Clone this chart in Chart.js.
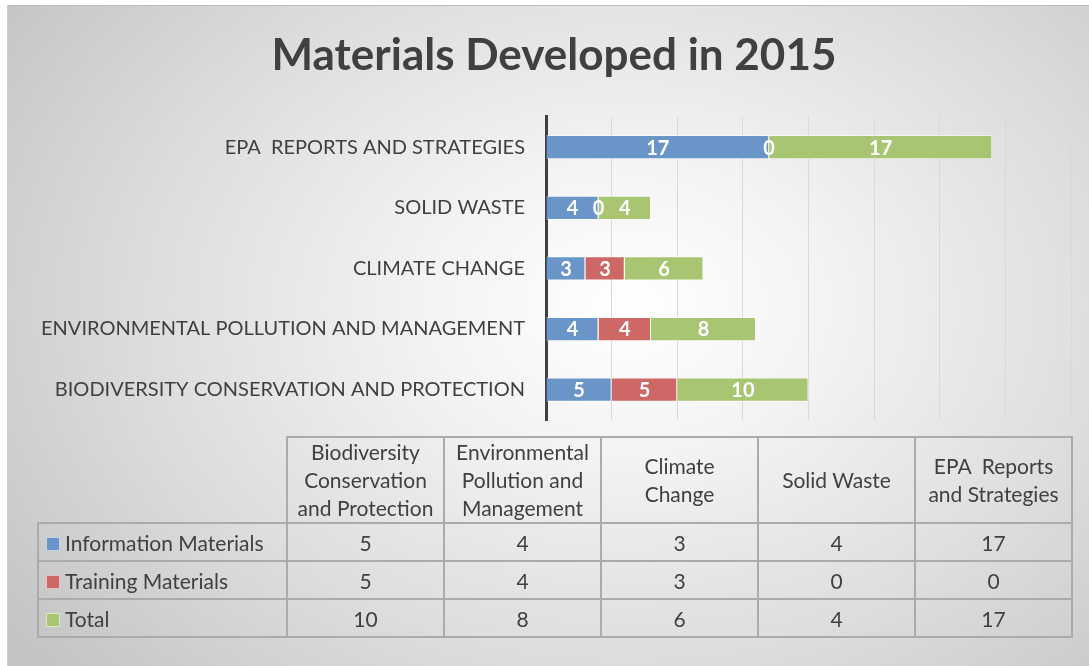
<!DOCTYPE html>
<html>
<head>
<meta charset="utf-8">
<script src="https://cdn.jsdelivr.net/npm/chart.js@4"></script>
<style>
    html, body { margin: 0; padding: 0; background: #fff; }
    #frame {
        position: absolute; left: 7px; top: 5px; width: 1082px; height: 661px;
        border-top: 1px solid #bdbdbd; border-left: 1px solid #cfcfcf;
        background: radial-gradient(ellipse 760px 560px at 620px 300px, #ffffff 0%, #f4f4f4 25%, #dcdcdc 65%, #c4c4c4 100%);
    }
    #chart { position: absolute; left: 0; top: 0; }
    #table {
        position: absolute; left: 37px; top: 436px; width: 1034px; table-layout: fixed;
        border-collapse: collapse; font-family: Lato, sans-serif; font-size: 21px; color: #404040;
    }
    #table td { border: 2px solid #ababab; text-align: center; padding: 0 6px; white-space: pre-wrap; }
    #table tr.head td { height: 84px; line-height: 28px; }
    #table tr.row td { height: 36px; }
    #table td.name { text-align: left; padding-left: 7px; white-space: nowrap; }
    #table td.blank { border-top: none; border-left: none; }
    .sw { display: inline-block; width: 12px; height: 12px; margin-right: 5px; border: 1px solid rgba(255,255,255,0.6); }
</style>
</head>
<body>
<div id="frame"></div>
<canvas id="chart" width="1089" height="666"></canvas>
<table id="table"></table>
<script>
const categories = ['Biodiversity Conservation and Protection', 'Environmental Pollution and Management', 'Climate Change', 'Solid Waste', 'EPA  Reports and Strategies'];
const seriesNames = ['Information Materials', 'Training Materials', 'Total'];
const infoMaterials = [5, 4, 3, 4, 17];
const trainingMaterials = [5, 4, 3, 0, 0];
const totals = [10, 8, 6, 4, 17];
const seriesColors = ['#6995c9', '#cd6866', '#a8c572'];
const xTicks = { min: 0, max: 40, step: 5 };

const seriesValues = [infoMaterials, trainingMaterials, totals];

// white numbers in the middle of each segment (zeros too, like Excel)
const segmentLabels = {
    id: 'segmentLabels',
    afterDatasetsDraw(chart) {
        const ctx = chart.ctx;
        ctx.save();
        ctx.font = 'bold 20px Lato, sans-serif';
        ctx.fillStyle = '#ffffff';
        ctx.textAlign = 'center';
        ctx.textBaseline = 'middle';
        chart.data.datasets.forEach((ds, i) => {
            chart.getDatasetMeta(i).data.forEach((bar, j) => {
                const p = bar.getProps(['x', 'y', 'base'], true);
                ctx.fillText(String(ds.data[j]), (p.x + p.base) / 2, p.y + 1);
            });
        });
        ctx.restore();
    }
};

new Chart(document.getElementById('chart').getContext('2d'), {
    type: 'bar',
    data: {
        labels: categories,
        datasets: seriesNames.map((name, i) => ({
            label: name,
            data: seriesValues[i],
            backgroundColor: seriesColors[i],
            borderColor: 'rgba(255,255,255,0.55)',
            borderWidth: 1,
            barPercentage: 0.4,
            categoryPercentage: 1
        }))
    },
    options: {
        indexAxis: 'y',
        responsive: false,
        animation: false,
        layout: { padding: { left: 37, right: 18, top: 0, bottom: 246 } },
        plugins: {
            legend: { display: false },
            tooltip: { enabled: false },
            title: {
                display: true,
                text: 'Materials Developed in 2015',
                color: '#404040',
                font: { family: 'Lato, sans-serif', size: 44, weight: 'bold' },
                padding: { top: 29, bottom: 35 }
            }
        },
        scales: {
            x: {
                stacked: true,
                min: xTicks.min,
                max: xTicks.max,
                ticks: { display: false, stepSize: xTicks.step },
                grid: { color: '#d9d9d9', lineWidth: 1, drawTicks: false },
                border: { display: false },
                afterFit: s => { s.height = 0; }
            },
            y: {
                stacked: true,
                reverse: true,
                grid: { display: false, drawTicks: false },
                border: { color: '#404040', width: 3 },
                ticks: {
                    color: '#404040',
                    padding: 21,
                    font: { family: 'Lato, sans-serif', size: 20 },
                    callback: function (v) { return this.getLabelForValue(v).toUpperCase(); }
                },
                afterFit: s => { s.width = 546 - 37; }
            }
        }
    },
    plugins: [segmentLabels]
});

// data table under the chart
const table = document.getElementById('table');
let html = '<colgroup><col style="width:249px">' + categories.map(() => '<col style="width:157px">').join('') + '</colgroup>';
html += '<tr class="head"><td class="blank"></td>';
categories.forEach(c => { html += '<td>' + c + '</td>'; });
html += '</tr>';
seriesNames.forEach((name, i) => {
    html += '<tr class="row"><td class="name"><span class="sw" style="background:' + seriesColors[i] + '"></span>' + name + '</td>';
    seriesValues[i].forEach(v => { html += '<td>' + v + '</td>'; });
    html += '</tr>';
});
table.innerHTML = html;
</script>
</body>
</html>
